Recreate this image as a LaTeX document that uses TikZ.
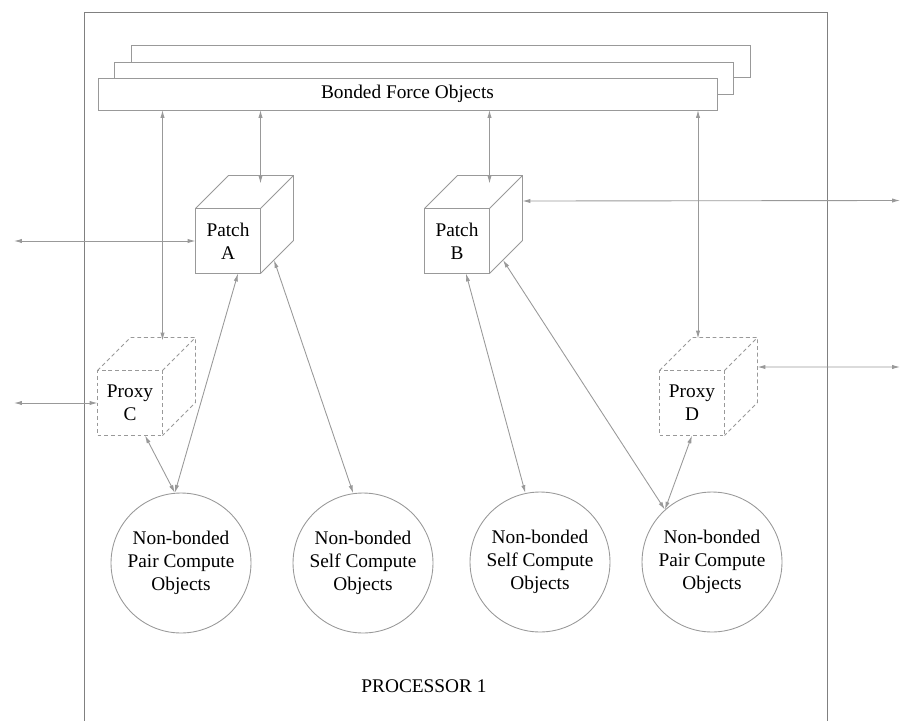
\documentclass[tikz,border=0pt]{standalone}
\usepackage{fontspec}
\setmainfont{Liberation Serif}
\usetikzlibrary{arrows.meta}

% 立方体の奥行き部分（上面と側面）
\newcommand{\drawcube}[2][]{%
  \draw[edge,#1] (#2.north west) -- ++(33,-33) -- ++(65,0) -- ++(0,65) -- (#2.south east)
                 (#2.north east) -- ++(33,-33);}

\begin{document}
\begin{tikzpicture}[x=0.02cm, y=-0.02cm,
    every node/.style={font=\fontsize{11}{13}\selectfont},
    edge/.style={draw=black!40, line width=0.5pt},
    link/.style={edge, {Latex[length=4.5pt,width=2.4pt]}-{Latex[length=4.5pt,width=2.4pt]}},
    layer/.style={edge, fill=white, rectangle, minimum width=12.38cm, minimum height=0.64cm, inner sep=0pt, outer sep=0pt},
    face/.style={edge, fill=white, rectangle, minimum size=1.3cm, inner sep=0pt, outer sep=0pt, align=center},
    ghost/.style={dash pattern=on 2.2pt off 1.6pt},
    compute/.style={edge, circle, minimum size=2.8cm, inner sep=0pt, align=center}]
    \useasboundingbox (0,0) rectangle (902,720);

    % プロセッサの枠
    \draw[edge, draw=black!50] (84,725) -- (84,12) -- (827,12) -- (827,725);
    \node (proc) at (424,686) {PROCESSOR 1};

    % 重なった Bonded Force Objects
    \node[layer] (bondedBack) at (441,61.5) {};
    \node[layer] (bondedMid) at (424,78) {};
    \node[layer] (bonded) at (407.5,94) {Bonded Force Objects};

    \node[face] (patchA) at (228,241) {Patch\\A};
    \node[face] (patchB) at (457,241) {Patch\\B};
    \node[face, ghost] (proxyC) at (130,403) {Proxy\\C};
    \node[face, ghost] (proxyD) at (692,403) {Proxy\\D};
    \drawcube{patchA}
    \drawcube{patchB}
    \drawcube[ghost]{proxyC}
    \drawcube[ghost]{proxyD}

    \node[compute] (pairC) at (181,563) {Non-bonded\\Pair Compute\\Objects};
    \node[compute] (selfA) at (363,563) {Non-bonded\\Self Compute\\Objects};
    \node[compute] (selfB) at (540,562) {Non-bonded\\Self Compute\\Objects};
    \node[compute] (pairD) at (712,562) {Non-bonded\\Pair Compute\\Objects};

    \coordinate (topC) at ([yshift=0.6cm]proxyC.north east);
    \coordinate (topA) at ([yshift=0.5cm]patchA.north east);
    \coordinate (topB) at ([yshift=0.5cm]patchB.north east);
    \coordinate (topD) at ([xshift=0.12cm,yshift=0.64cm]proxyD.north);
    \coordinate (sideA) at ([xshift=0.27cm,yshift=0.27cm]patchA.south east);
    \coordinate (sideB) at ([xshift=0.27cm,yshift=0.27cm]patchB.south east);
    \coordinate (backB) at ([xshift=0.66cm,yshift=0.8cm]patchB.east);
    \coordinate (backD) at ([xshift=0.66cm,yshift=0.72cm]proxyD.east);
    \coordinate (leftA) at (14,241);
    \coordinate (leftC) at (14,403);
    \coordinate (rightB) at (900,200.5);
    \coordinate (rightD) at (900,367);

    \draw[link] (bonded.south -| topC) -- (topC);
    \draw[link] (bonded.south -| topA) -- (topA);
    \draw[link] (bonded.south -| topB) -- (topB);
    \draw[link] (bonded.south -| topD) -- (topD);
    \draw[link] (leftA) -- (patchA.west);
    \draw[link] (leftC) -- (proxyC.west);
    \draw[link] (rightB) -- (backB);
    \draw[link] (rightD) -- (backD);
    \draw[link] ([xshift=0.2cm]patchA.south) -- (pairC.95);
    \draw[link] ([xshift=0.3cm]proxyC.south) -- (pairC.95);
    \draw[link] (sideA) -- (selfA.98);
    \draw[link] ([xshift=0.18cm]patchB.south) -- (selfB.102);
    \draw[link] (sideB) -- (pairD.132);
    \draw[link] (proxyD.south) -- (pairD.132);
\end{tikzpicture}
\end{document}
